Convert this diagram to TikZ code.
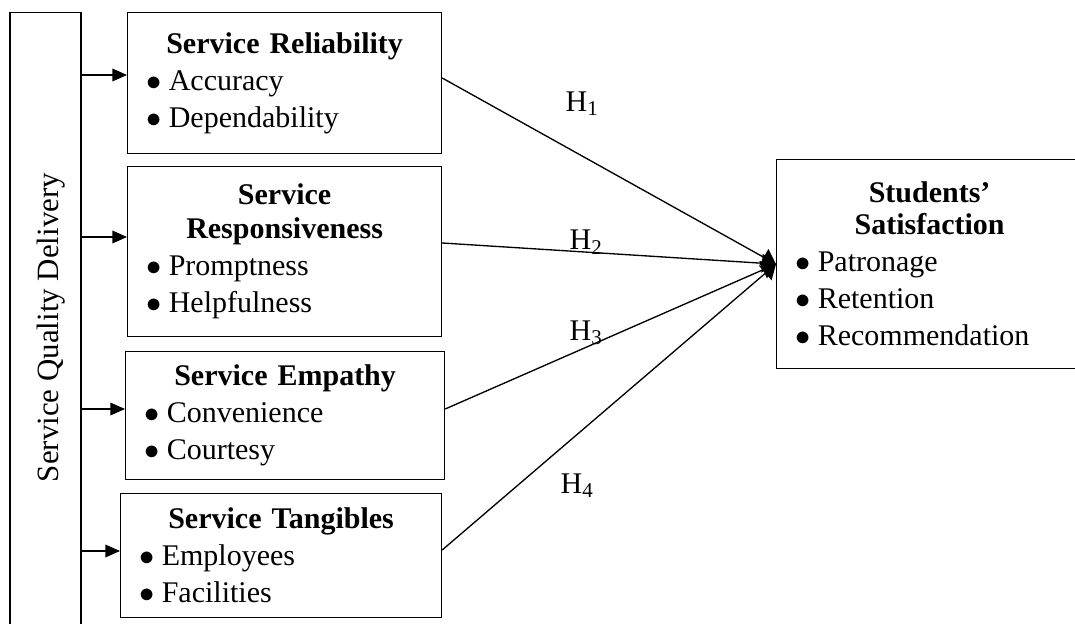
\documentclass[tikz,border=0pt]{standalone}
\usepackage{fontspec}
\setmainfont{Liberation Serif}
\usetikzlibrary{arrows.meta}

\newcommand{\itm}{\scalebox{1.1}{$\bullet$}\hspace{5.5pt}}

\tikzset{
  factor/.style={draw, line width=0.9pt, anchor=north west, align=left, inner xsep=14pt, inner ysep=0pt,
    font=\fontsize{22.5}{27.75}\selectfont},
  feed/.style={line width=1pt, -{Triangle[length=11pt,width=9.5pt]}},
  hypo/.style={line width=1pt, -{Triangle[length=10.5pt,width=14pt]}},
  hname/.style={inner sep=0.75pt, font=\fontsize{22.5}{27}\selectfont},
}

\begin{document}
\begin{tikzpicture}[x=0.75pt,y=0.75pt,yscale=-1,xscale=1]
\clip (0,0) rectangle (1075,624);

%Shape: Rectangle [id:sqd] (runs off the bottom)
\node [draw, line width=0.9pt, rotate=90, minimum width=473pt, minimum height=53.25pt,
  text height=24pt, text depth=5pt, font=\fontsize{23.2}{27}\selectfont] (sqd) at (45.5,327.5) {Service Quality Delivery};

% Text Node
\node [factor, minimum width=235.5pt, minimum height=105.75pt, text width=207.5pt] (rel) at (127,12)
  {{\centering\bfseries Service Reliability\par}
   \itm Accuracy\\
   \itm Dependability};
% Text Node
\node [factor, minimum width=235.5pt, minimum height=127.5pt, text width=207.5pt] (resp) at (127,166)
  {{\centering\bfseries Service\\[-2.25pt] Responsiveness\par}
   \itm Promptness\\
   \itm Helpfulness};
% Text Node
\node [factor, minimum width=239.25pt, minimum height=96pt, text width=211.25pt] (emp) at (125,351)
  {{\centering\bfseries Service Empathy\par}
   \itm Convenience\\
   \itm Courtesy};
% Text Node
\node [factor, minimum width=240.75pt, minimum height=93pt, text width=212.75pt] (tan) at (120,493)
  {{\centering\bfseries Service Tangibles\par}
   \itm Employees\\
   \itm Facilities};
% Text Node (runs off the right edge)
\node [factor, minimum width=229.5pt, minimum height=156.75pt, text width=201.5pt] (sat) at (776,159)
  {{\centering\bfseries Students'\\[-3.75pt] Satisfaction\par}
   \itm Patronage\\
   \itm Retention\\
   \itm Recommendation};

% heights of the arrows into the factors
\coordinate (f1) at (0,75);
\coordinate (f2) at (0,237);
\coordinate (f3) at (0,409);
\coordinate (f4) at (0,551);
\draw [feed] (sqd.south |- f1) -- (rel.west |- f1);
\draw [feed] (sqd.south |- f2) -- (resp.west |- f2);
\draw [feed] (sqd.south |- f3) -- (emp.west |- f3);
\draw [feed] (sqd.south |- f4) -- (tan.west |- f4);

% hypotheses
\coordinate (h1) at (0,78);
\coordinate (h2) at (0,243);
\coordinate (h3) at (0,409);
\coordinate (h4) at (0,550);
\draw [hypo] (rel.east |- h1) -- (sat.west);
\draw [hypo] (resp.east |- h2) -- (sat.west);
\draw [hypo] (emp.east |- h3) -- (sat.west);
\draw [hypo] (tan.east |- h4) -- (sat.west);

% Text Node
\node [hname] (H1) at (582,104) {H\textsubscript{1}};
% Text Node
\node [hname] (H2) at (586,242) {H\textsubscript{2}};
% Text Node
\node [hname] (H3) at (586,333) {H\textsubscript{3}};
% Text Node
\node [hname] (H4) at (577,486) {H\textsubscript{4}};

\end{tikzpicture}
\end{document}
